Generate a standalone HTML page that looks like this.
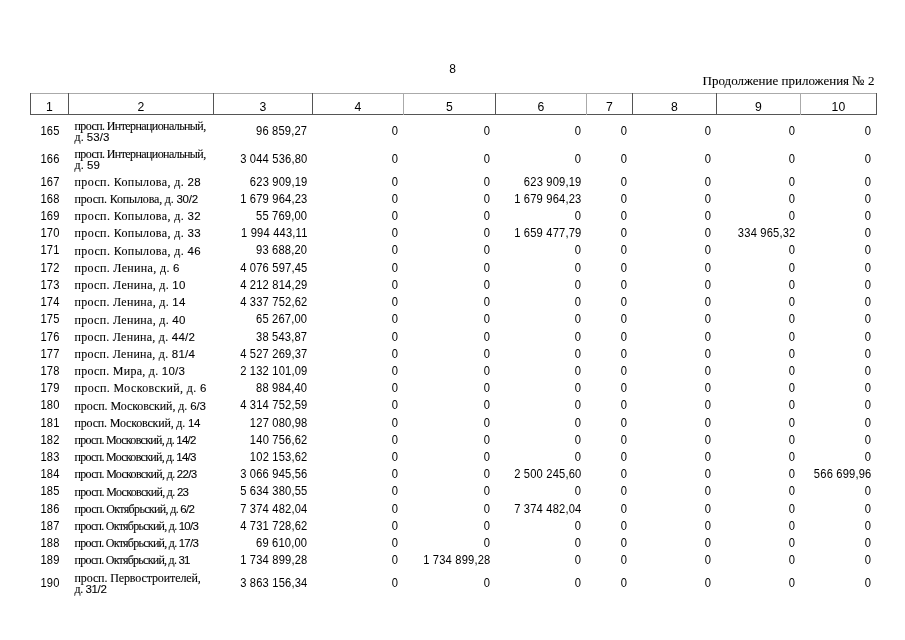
<!DOCTYPE html><html><head><meta charset="utf-8"><style>
html,body{margin:0;padding:0;background:#fff;width:905px;height:640px;overflow:hidden;position:relative}
#w{position:absolute;left:0;top:0;width:905px;height:640px;will-change:transform}
.t{position:absolute;white-space:nowrap;font-family:"Liberation Sans",sans-serif;font-size:12px;line-height:12px;color:#000}
.n{position:absolute;white-space:nowrap;font-family:"Liberation Sans",sans-serif;font-size:12.7px;line-height:12.7px;letter-spacing:0.2px;transform:scaleX(0.88);color:#000}
.nr{transform-origin:100% 50%}
.s{position:absolute;white-space:nowrap;font-family:"Liberation Serif",serif;font-size:12px;line-height:12px;color:#000;-webkit-text-stroke:0.1px #000}
.sd{font-family:"Liberation Sans",sans-serif;font-size:11.5px}
.v{position:absolute;width:1px;background:#555}
.h{position:absolute;height:1px;background:#555}
</style></head><body><div id="w">

<div class="h" style="left:30px;top:93px;width:847px;background:#aaa"></div>
<div class="h" style="left:30px;top:114px;width:847px"></div>
<div class="v" style="left:30px;top:93px;height:22px;background:#555"></div>
<div class="v" style="left:68px;top:93px;height:22px;background:#555"></div>
<div class="v" style="left:213px;top:93px;height:22px;background:#555"></div>
<div class="v" style="left:312px;top:93px;height:22px;background:#555"></div>
<div class="v" style="left:403px;top:93px;height:22px;background:#aaa"></div>
<div class="v" style="left:495px;top:93px;height:22px;background:#555"></div>
<div class="v" style="left:586px;top:93px;height:22px;background:#aaa"></div>
<div class="v" style="left:632px;top:93px;height:22px;background:#555"></div>
<div class="v" style="left:716px;top:93px;height:22px;background:#555"></div>
<div class="v" style="left:800px;top:93px;height:22px;background:#aaa"></div>
<div class="v" style="left:876px;top:93px;height:22px;background:#555"></div>
<div class="t" style="left:0;width:905px;text-align:center;top:62.54px;font-size:12px;line-height:12px;padding-left:0px">8</div>
<div class="s" style="right:30.5px;top:74.00px;font-size:13px;line-height:13px">Продолжение приложения № 2</div>
<div class="t" style="left:30.4px;width:38px;text-align:center;top:100.57px;font-size:12.2px;line-height:12.2px">1</div>
<div class="t" style="left:68.4px;width:145px;text-align:center;top:100.57px;font-size:12.2px;line-height:12.2px">2</div>
<div class="t" style="left:213.4px;width:99px;text-align:center;top:100.57px;font-size:12.2px;line-height:12.2px">3</div>
<div class="t" style="left:312.4px;width:91px;text-align:center;top:100.57px;font-size:12.2px;line-height:12.2px">4</div>
<div class="t" style="left:403.4px;width:92px;text-align:center;top:100.57px;font-size:12.2px;line-height:12.2px">5</div>
<div class="t" style="left:495.4px;width:91px;text-align:center;top:100.57px;font-size:12.2px;line-height:12.2px">6</div>
<div class="t" style="left:586.4px;width:46px;text-align:center;top:100.57px;font-size:12.2px;line-height:12.2px">7</div>
<div class="t" style="left:632.4px;width:84px;text-align:center;top:100.57px;font-size:12.2px;line-height:12.2px">8</div>
<div class="t" style="left:716.4px;width:84px;text-align:center;top:100.57px;font-size:12.2px;line-height:12.2px">9</div>
<div class="t" style="left:800.4px;width:76px;text-align:center;top:100.57px;font-size:12.2px;line-height:12.2px">10</div>
<div class="n" style="left:30.8px;width:38px;text-align:center;top:125.15px">165</div>
<div class="s" style="left:74.5px;top:119.95px;letter-spacing:-0.596px">просп. Интернациональный,</div>
<div class="s" style="left:74.5px;top:130.65px;letter-spacing:0.083px">д. <span class="sd">53/3</span></div>
<div class="n nr" style="right:597.9px;top:125.15px">96 859,27</div>
<div class="n nr" style="right:506.9px;top:125.15px">0</div>
<div class="n nr" style="right:414.9px;top:125.15px">0</div>
<div class="n nr" style="right:323.9px;top:125.15px">0</div>
<div class="n nr" style="right:277.9px;top:125.15px">0</div>
<div class="n nr" style="right:193.9px;top:125.15px">0</div>
<div class="n nr" style="right:109.9px;top:125.15px">0</div>
<div class="n nr" style="right:33.9px;top:125.15px">0</div>
<div class="n" style="left:30.8px;width:38px;text-align:center;top:153.25px">166</div>
<div class="s" style="left:74.5px;top:147.75px;letter-spacing:-0.596px">просп. Интернациональный,</div>
<div class="s" style="left:74.5px;top:158.95px;letter-spacing:0.125px">д. <span class="sd">59</span></div>
<div class="n nr" style="right:597.9px;top:153.25px">3 044 536,80</div>
<div class="n nr" style="right:506.9px;top:153.25px">0</div>
<div class="n nr" style="right:414.9px;top:153.25px">0</div>
<div class="n nr" style="right:323.9px;top:153.25px">0</div>
<div class="n nr" style="right:277.9px;top:153.25px">0</div>
<div class="n nr" style="right:193.9px;top:153.25px">0</div>
<div class="n nr" style="right:109.9px;top:153.25px">0</div>
<div class="n nr" style="right:33.9px;top:153.25px">0</div>
<div class="n" style="left:30.8px;width:38px;text-align:center;top:175.65px">167</div>
<div class="s" style="left:74.5px;top:175.85px;letter-spacing:0.386px">просп. Копылова, д. <span class="sd">28</span></div>
<div class="n nr" style="right:597.9px;top:175.65px">623 909,19</div>
<div class="n nr" style="right:506.9px;top:175.65px">0</div>
<div class="n nr" style="right:414.9px;top:175.65px">0</div>
<div class="n nr" style="right:323.9px;top:175.65px">623 909,19</div>
<div class="n nr" style="right:277.9px;top:175.65px">0</div>
<div class="n nr" style="right:193.9px;top:175.65px">0</div>
<div class="n nr" style="right:109.9px;top:175.65px">0</div>
<div class="n nr" style="right:33.9px;top:175.65px">0</div>
<div class="n" style="left:30.8px;width:38px;text-align:center;top:192.86px">168</div>
<div class="s" style="left:74.5px;top:193.06px;letter-spacing:-0.17px">просп. Копылова, д. <span class="sd">30/2</span></div>
<div class="n nr" style="right:597.9px;top:192.86px">1 679 964,23</div>
<div class="n nr" style="right:506.9px;top:192.86px">0</div>
<div class="n nr" style="right:414.9px;top:192.86px">0</div>
<div class="n nr" style="right:323.9px;top:192.86px">1 679 964,23</div>
<div class="n nr" style="right:277.9px;top:192.86px">0</div>
<div class="n nr" style="right:193.9px;top:192.86px">0</div>
<div class="n nr" style="right:109.9px;top:192.86px">0</div>
<div class="n nr" style="right:33.9px;top:192.86px">0</div>
<div class="n" style="left:30.8px;width:38px;text-align:center;top:210.07px">169</div>
<div class="s" style="left:74.5px;top:210.27px;letter-spacing:0.386px">просп. Копылова, д. <span class="sd">32</span></div>
<div class="n nr" style="right:597.9px;top:210.07px">55 769,00</div>
<div class="n nr" style="right:506.9px;top:210.07px">0</div>
<div class="n nr" style="right:414.9px;top:210.07px">0</div>
<div class="n nr" style="right:323.9px;top:210.07px">0</div>
<div class="n nr" style="right:277.9px;top:210.07px">0</div>
<div class="n nr" style="right:193.9px;top:210.07px">0</div>
<div class="n nr" style="right:109.9px;top:210.07px">0</div>
<div class="n nr" style="right:33.9px;top:210.07px">0</div>
<div class="n" style="left:30.8px;width:38px;text-align:center;top:227.28px">170</div>
<div class="s" style="left:74.5px;top:227.48px;letter-spacing:0.386px">просп. Копылова, д. <span class="sd">33</span></div>
<div class="n nr" style="right:597.9px;top:227.28px">1 994 443,11</div>
<div class="n nr" style="right:506.9px;top:227.28px">0</div>
<div class="n nr" style="right:414.9px;top:227.28px">0</div>
<div class="n nr" style="right:323.9px;top:227.28px">1 659 477,79</div>
<div class="n nr" style="right:277.9px;top:227.28px">0</div>
<div class="n nr" style="right:193.9px;top:227.28px">0</div>
<div class="n nr" style="right:109.9px;top:227.28px">334 965,32</div>
<div class="n nr" style="right:33.9px;top:227.28px">0</div>
<div class="n" style="left:30.8px;width:38px;text-align:center;top:244.49px">171</div>
<div class="s" style="left:74.5px;top:244.69px;letter-spacing:0.386px">просп. Копылова, д. <span class="sd">46</span></div>
<div class="n nr" style="right:597.9px;top:244.49px">93 688,20</div>
<div class="n nr" style="right:506.9px;top:244.49px">0</div>
<div class="n nr" style="right:414.9px;top:244.49px">0</div>
<div class="n nr" style="right:323.9px;top:244.49px">0</div>
<div class="n nr" style="right:277.9px;top:244.49px">0</div>
<div class="n nr" style="right:193.9px;top:244.49px">0</div>
<div class="n nr" style="right:109.9px;top:244.49px">0</div>
<div class="n nr" style="right:33.9px;top:244.49px">0</div>
<div class="n" style="left:30.8px;width:38px;text-align:center;top:261.70px">172</div>
<div class="s" style="left:74.5px;top:261.90px;letter-spacing:0.333px">просп. Ленина, д. <span class="sd">6</span></div>
<div class="n nr" style="right:597.9px;top:261.70px">4 076 597,45</div>
<div class="n nr" style="right:506.9px;top:261.70px">0</div>
<div class="n nr" style="right:414.9px;top:261.70px">0</div>
<div class="n nr" style="right:323.9px;top:261.70px">0</div>
<div class="n nr" style="right:277.9px;top:261.70px">0</div>
<div class="n nr" style="right:193.9px;top:261.70px">0</div>
<div class="n nr" style="right:109.9px;top:261.70px">0</div>
<div class="n nr" style="right:33.9px;top:261.70px">0</div>
<div class="n" style="left:30.8px;width:38px;text-align:center;top:278.91px">173</div>
<div class="s" style="left:74.5px;top:279.11px;letter-spacing:0.295px">просп. Ленина, д. <span class="sd">10</span></div>
<div class="n nr" style="right:597.9px;top:278.91px">4 212 814,29</div>
<div class="n nr" style="right:506.9px;top:278.91px">0</div>
<div class="n nr" style="right:414.9px;top:278.91px">0</div>
<div class="n nr" style="right:323.9px;top:278.91px">0</div>
<div class="n nr" style="right:277.9px;top:278.91px">0</div>
<div class="n nr" style="right:193.9px;top:278.91px">0</div>
<div class="n nr" style="right:109.9px;top:278.91px">0</div>
<div class="n nr" style="right:33.9px;top:278.91px">0</div>
<div class="n" style="left:30.8px;width:38px;text-align:center;top:296.12px">174</div>
<div class="s" style="left:74.5px;top:296.32px;letter-spacing:0.289px">просп. Ленина, д. <span class="sd">14</span></div>
<div class="n nr" style="right:597.9px;top:296.12px">4 337 752,62</div>
<div class="n nr" style="right:506.9px;top:296.12px">0</div>
<div class="n nr" style="right:414.9px;top:296.12px">0</div>
<div class="n nr" style="right:323.9px;top:296.12px">0</div>
<div class="n nr" style="right:277.9px;top:296.12px">0</div>
<div class="n nr" style="right:193.9px;top:296.12px">0</div>
<div class="n nr" style="right:109.9px;top:296.12px">0</div>
<div class="n nr" style="right:33.9px;top:296.12px">0</div>
<div class="n" style="left:30.8px;width:38px;text-align:center;top:313.33px">175</div>
<div class="s" style="left:74.5px;top:313.53px;letter-spacing:0.289px">просп. Ленина, д. <span class="sd">40</span></div>
<div class="n nr" style="right:597.9px;top:313.33px">65 267,00</div>
<div class="n nr" style="right:506.9px;top:313.33px">0</div>
<div class="n nr" style="right:414.9px;top:313.33px">0</div>
<div class="n nr" style="right:323.9px;top:313.33px">0</div>
<div class="n nr" style="right:277.9px;top:313.33px">0</div>
<div class="n nr" style="right:193.9px;top:313.33px">0</div>
<div class="n nr" style="right:109.9px;top:313.33px">0</div>
<div class="n nr" style="right:33.9px;top:313.33px">0</div>
<div class="n" style="left:30.8px;width:38px;text-align:center;top:330.54px">176</div>
<div class="s" style="left:74.5px;top:330.74px;letter-spacing:0.262px">просп. Ленина, д. <span class="sd">44/2</span></div>
<div class="n nr" style="right:597.9px;top:330.54px">38 543,87</div>
<div class="n nr" style="right:506.9px;top:330.54px">0</div>
<div class="n nr" style="right:414.9px;top:330.54px">0</div>
<div class="n nr" style="right:323.9px;top:330.54px">0</div>
<div class="n nr" style="right:277.9px;top:330.54px">0</div>
<div class="n nr" style="right:193.9px;top:330.54px">0</div>
<div class="n nr" style="right:109.9px;top:330.54px">0</div>
<div class="n nr" style="right:33.9px;top:330.54px">0</div>
<div class="n" style="left:30.8px;width:38px;text-align:center;top:347.75px">177</div>
<div class="s" style="left:74.5px;top:347.95px;letter-spacing:0.262px">просп. Ленина, д. <span class="sd">81/4</span></div>
<div class="n nr" style="right:597.9px;top:347.75px">4 527 269,37</div>
<div class="n nr" style="right:506.9px;top:347.75px">0</div>
<div class="n nr" style="right:414.9px;top:347.75px">0</div>
<div class="n nr" style="right:323.9px;top:347.75px">0</div>
<div class="n nr" style="right:277.9px;top:347.75px">0</div>
<div class="n nr" style="right:193.9px;top:347.75px">0</div>
<div class="n nr" style="right:109.9px;top:347.75px">0</div>
<div class="n nr" style="right:33.9px;top:347.75px">0</div>
<div class="n" style="left:30.8px;width:38px;text-align:center;top:364.96px">178</div>
<div class="s" style="left:74.5px;top:365.16px;letter-spacing:0.268px">просп. Мира, д. <span class="sd">10/3</span></div>
<div class="n nr" style="right:597.9px;top:364.96px">2 132 101,09</div>
<div class="n nr" style="right:506.9px;top:364.96px">0</div>
<div class="n nr" style="right:414.9px;top:364.96px">0</div>
<div class="n nr" style="right:323.9px;top:364.96px">0</div>
<div class="n nr" style="right:277.9px;top:364.96px">0</div>
<div class="n nr" style="right:193.9px;top:364.96px">0</div>
<div class="n nr" style="right:109.9px;top:364.96px">0</div>
<div class="n nr" style="right:33.9px;top:364.96px">0</div>
<div class="n" style="left:30.8px;width:38px;text-align:center;top:382.17px">179</div>
<div class="s" style="left:74.5px;top:382.37px;letter-spacing:0.368px">просп. Московский, д. <span class="sd">6</span></div>
<div class="n nr" style="right:597.9px;top:382.17px">88 984,40</div>
<div class="n nr" style="right:506.9px;top:382.17px">0</div>
<div class="n nr" style="right:414.9px;top:382.17px">0</div>
<div class="n nr" style="right:323.9px;top:382.17px">0</div>
<div class="n nr" style="right:277.9px;top:382.17px">0</div>
<div class="n nr" style="right:193.9px;top:382.17px">0</div>
<div class="n nr" style="right:109.9px;top:382.17px">0</div>
<div class="n nr" style="right:33.9px;top:382.17px">0</div>
<div class="n" style="left:30.8px;width:38px;text-align:center;top:399.38px">180</div>
<div class="s" style="left:74.5px;top:399.58px;letter-spacing:-0.079px">просп. Московский, д. <span class="sd">6/3</span></div>
<div class="n nr" style="right:597.9px;top:399.38px">4 314 752,59</div>
<div class="n nr" style="right:506.9px;top:399.38px">0</div>
<div class="n nr" style="right:414.9px;top:399.38px">0</div>
<div class="n nr" style="right:323.9px;top:399.38px">0</div>
<div class="n nr" style="right:277.9px;top:399.38px">0</div>
<div class="n nr" style="right:193.9px;top:399.38px">0</div>
<div class="n nr" style="right:109.9px;top:399.38px">0</div>
<div class="n nr" style="right:33.9px;top:399.38px">0</div>
<div class="n" style="left:30.8px;width:38px;text-align:center;top:416.59px">181</div>
<div class="s" style="left:74.5px;top:416.79px;letter-spacing:-0.183px">просп. Московский, д. <span class="sd">14</span></div>
<div class="n nr" style="right:597.9px;top:416.59px">127 080,98</div>
<div class="n nr" style="right:506.9px;top:416.59px">0</div>
<div class="n nr" style="right:414.9px;top:416.59px">0</div>
<div class="n nr" style="right:323.9px;top:416.59px">0</div>
<div class="n nr" style="right:277.9px;top:416.59px">0</div>
<div class="n nr" style="right:193.9px;top:416.59px">0</div>
<div class="n nr" style="right:109.9px;top:416.59px">0</div>
<div class="n nr" style="right:33.9px;top:416.59px">0</div>
<div class="n" style="left:30.8px;width:38px;text-align:center;top:433.80px">182</div>
<div class="s" style="left:74.5px;top:434.00px;letter-spacing:-0.712px">просп. Московский, д. <span class="sd">14/2</span></div>
<div class="n nr" style="right:597.9px;top:433.80px">140 756,62</div>
<div class="n nr" style="right:506.9px;top:433.80px">0</div>
<div class="n nr" style="right:414.9px;top:433.80px">0</div>
<div class="n nr" style="right:323.9px;top:433.80px">0</div>
<div class="n nr" style="right:277.9px;top:433.80px">0</div>
<div class="n nr" style="right:193.9px;top:433.80px">0</div>
<div class="n nr" style="right:109.9px;top:433.80px">0</div>
<div class="n nr" style="right:33.9px;top:433.80px">0</div>
<div class="n" style="left:30.8px;width:38px;text-align:center;top:451.01px">183</div>
<div class="s" style="left:74.5px;top:451.21px;letter-spacing:-0.712px">просп. Московский, д. <span class="sd">14/3</span></div>
<div class="n nr" style="right:597.9px;top:451.01px">102 153,62</div>
<div class="n nr" style="right:506.9px;top:451.01px">0</div>
<div class="n nr" style="right:414.9px;top:451.01px">0</div>
<div class="n nr" style="right:323.9px;top:451.01px">0</div>
<div class="n nr" style="right:277.9px;top:451.01px">0</div>
<div class="n nr" style="right:193.9px;top:451.01px">0</div>
<div class="n nr" style="right:109.9px;top:451.01px">0</div>
<div class="n nr" style="right:33.9px;top:451.01px">0</div>
<div class="n" style="left:30.8px;width:38px;text-align:center;top:468.22px">184</div>
<div class="s" style="left:74.5px;top:468.42px;letter-spacing:-0.688px">просп. Московский, д. <span class="sd">22/3</span></div>
<div class="n nr" style="right:597.9px;top:468.22px">3 066 945,56</div>
<div class="n nr" style="right:506.9px;top:468.22px">0</div>
<div class="n nr" style="right:414.9px;top:468.22px">0</div>
<div class="n nr" style="right:323.9px;top:468.22px">2 500 245,60</div>
<div class="n nr" style="right:277.9px;top:468.22px">0</div>
<div class="n nr" style="right:193.9px;top:468.22px">0</div>
<div class="n nr" style="right:109.9px;top:468.22px">0</div>
<div class="n nr" style="right:33.9px;top:468.22px">566 699,96</div>
<div class="n" style="left:30.8px;width:38px;text-align:center;top:485.43px">185</div>
<div class="s" style="left:74.5px;top:485.63px;letter-spacing:-0.683px">просп. Московский, д. <span class="sd">23</span></div>
<div class="n nr" style="right:597.9px;top:485.43px">5 634 380,55</div>
<div class="n nr" style="right:506.9px;top:485.43px">0</div>
<div class="n nr" style="right:414.9px;top:485.43px">0</div>
<div class="n nr" style="right:323.9px;top:485.43px">0</div>
<div class="n nr" style="right:277.9px;top:485.43px">0</div>
<div class="n nr" style="right:193.9px;top:485.43px">0</div>
<div class="n nr" style="right:109.9px;top:485.43px">0</div>
<div class="n nr" style="right:33.9px;top:485.43px">0</div>
<div class="n" style="left:30.8px;width:38px;text-align:center;top:502.64px">186</div>
<div class="s" style="left:74.5px;top:502.84px;letter-spacing:-0.664px">просп. Октябрьский, д. <span class="sd">6/2</span></div>
<div class="n nr" style="right:597.9px;top:502.64px">7 374 482,04</div>
<div class="n nr" style="right:506.9px;top:502.64px">0</div>
<div class="n nr" style="right:414.9px;top:502.64px">0</div>
<div class="n nr" style="right:323.9px;top:502.64px">7 374 482,04</div>
<div class="n nr" style="right:277.9px;top:502.64px">0</div>
<div class="n nr" style="right:193.9px;top:502.64px">0</div>
<div class="n nr" style="right:109.9px;top:502.64px">0</div>
<div class="n nr" style="right:33.9px;top:502.64px">0</div>
<div class="n" style="left:30.8px;width:38px;text-align:center;top:519.85px">187</div>
<div class="s" style="left:74.5px;top:520.05px;letter-spacing:-0.735px">просп. Октябрьский, д. <span class="sd">10/3</span></div>
<div class="n nr" style="right:597.9px;top:519.85px">4 731 728,62</div>
<div class="n nr" style="right:506.9px;top:519.85px">0</div>
<div class="n nr" style="right:414.9px;top:519.85px">0</div>
<div class="n nr" style="right:323.9px;top:519.85px">0</div>
<div class="n nr" style="right:277.9px;top:519.85px">0</div>
<div class="n nr" style="right:193.9px;top:519.85px">0</div>
<div class="n nr" style="right:109.9px;top:519.85px">0</div>
<div class="n nr" style="right:33.9px;top:519.85px">0</div>
<div class="n" style="left:30.8px;width:38px;text-align:center;top:537.06px">188</div>
<div class="s" style="left:74.5px;top:537.26px;letter-spacing:-0.735px">просп. Октябрьский, д. <span class="sd">17/3</span></div>
<div class="n nr" style="right:597.9px;top:537.06px">69 610,00</div>
<div class="n nr" style="right:506.9px;top:537.06px">0</div>
<div class="n nr" style="right:414.9px;top:537.06px">0</div>
<div class="n nr" style="right:323.9px;top:537.06px">0</div>
<div class="n nr" style="right:277.9px;top:537.06px">0</div>
<div class="n nr" style="right:193.9px;top:537.06px">0</div>
<div class="n nr" style="right:109.9px;top:537.06px">0</div>
<div class="n nr" style="right:33.9px;top:537.06px">0</div>
<div class="n" style="left:30.8px;width:38px;text-align:center;top:554.27px">189</div>
<div class="s" style="left:74.5px;top:554.47px;letter-spacing:-0.746px">просп. Октябрьский, д. <span class="sd">31</span></div>
<div class="n nr" style="right:597.9px;top:554.27px">1 734 899,28</div>
<div class="n nr" style="right:506.9px;top:554.27px">0</div>
<div class="n nr" style="right:414.9px;top:554.27px">1 734 899,28</div>
<div class="n nr" style="right:323.9px;top:554.27px">0</div>
<div class="n nr" style="right:277.9px;top:554.27px">0</div>
<div class="n nr" style="right:193.9px;top:554.27px">0</div>
<div class="n nr" style="right:109.9px;top:554.27px">0</div>
<div class="n nr" style="right:33.9px;top:554.27px">0</div>
<div class="n" style="left:30.8px;width:38px;text-align:center;top:576.65px">190</div>
<div class="s" style="left:74.5px;top:571.85px;letter-spacing:-0.114px">просп. Первостроителей,</div>
<div class="s" style="left:74.5px;top:582.65px;letter-spacing:-0.367px">д. <span class="sd">31/2</span></div>
<div class="n nr" style="right:597.9px;top:576.65px">3 863 156,34</div>
<div class="n nr" style="right:506.9px;top:576.65px">0</div>
<div class="n nr" style="right:414.9px;top:576.65px">0</div>
<div class="n nr" style="right:323.9px;top:576.65px">0</div>
<div class="n nr" style="right:277.9px;top:576.65px">0</div>
<div class="n nr" style="right:193.9px;top:576.65px">0</div>
<div class="n nr" style="right:109.9px;top:576.65px">0</div>
<div class="n nr" style="right:33.9px;top:576.65px">0</div>
</div></body></html>
